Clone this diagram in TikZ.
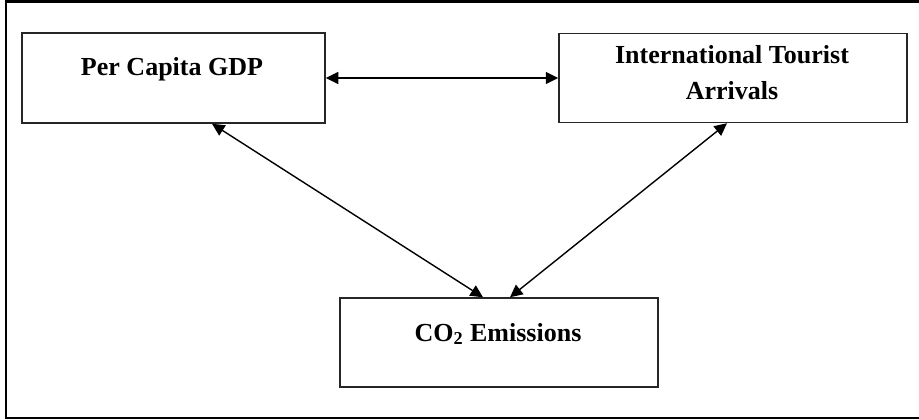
\documentclass[tikz,border=0pt]{standalone}
\usepackage{fontspec}
\setmainfont{Liberation Serif}
\usepackage{tikz}
\usetikzlibrary{positioning,arrows.meta}

\tikzset{
	varbox/.style={draw=black!85,line width=0.3mm,fill=white},
	vartext/.style={font=\fontsize{14.8pt}{20.5pt}\selectfont\bfseries,align=center,inner sep=0pt},
	link/.style={{Triangle[length=2.5mm,width=2.4mm]}-{Triangle[length=2.5mm,width=2.4mm]},line width=0.28mm}
}

\begin{document}
\begin{tikzpicture}
				\useasboundingbox (0,0) rectangle (18.38,8.4);
				% Outer frame (cut off on the right)
				\draw[line width=0.45mm] (18.8,8.37) -- (0.12,8.37) -- (0.12,0.04) -- (18.8,0.04);
				% Boxes
				\node[varbox,minimum width=6.06cm,minimum height=1.8cm] (gdp) at (3.47,6.84) {};
				\node[varbox,minimum width=6.96cm,minimum height=1.78cm] (tourist) at (14.66,6.84) {};
				\node[varbox,minimum width=6.36cm,minimum height=1.78cm] (co2) at (9.98,1.55) {};
				% Box texts
				\node[vartext] (gdptext) at (3.44,7.01) {Per Capita GDP};
				\node[vartext] (touristtext) at (14.64,6.94) {International Tourist\\Arrivals};
				\node[vartext] (co2text) at (9.96,1.72) {CO\textsubscript{2} Emissions};
				% Links
				\path[link] (gdp) edge (tourist);
				\path[link] ([xshift=7.7mm]gdp.south) edge ([xshift=-3.2mm]co2.north);
				\path[link] ([xshift=-1.2mm]tourist.south) edge ([xshift=2.2mm]co2.north);
			\end{tikzpicture}
\end{document}
